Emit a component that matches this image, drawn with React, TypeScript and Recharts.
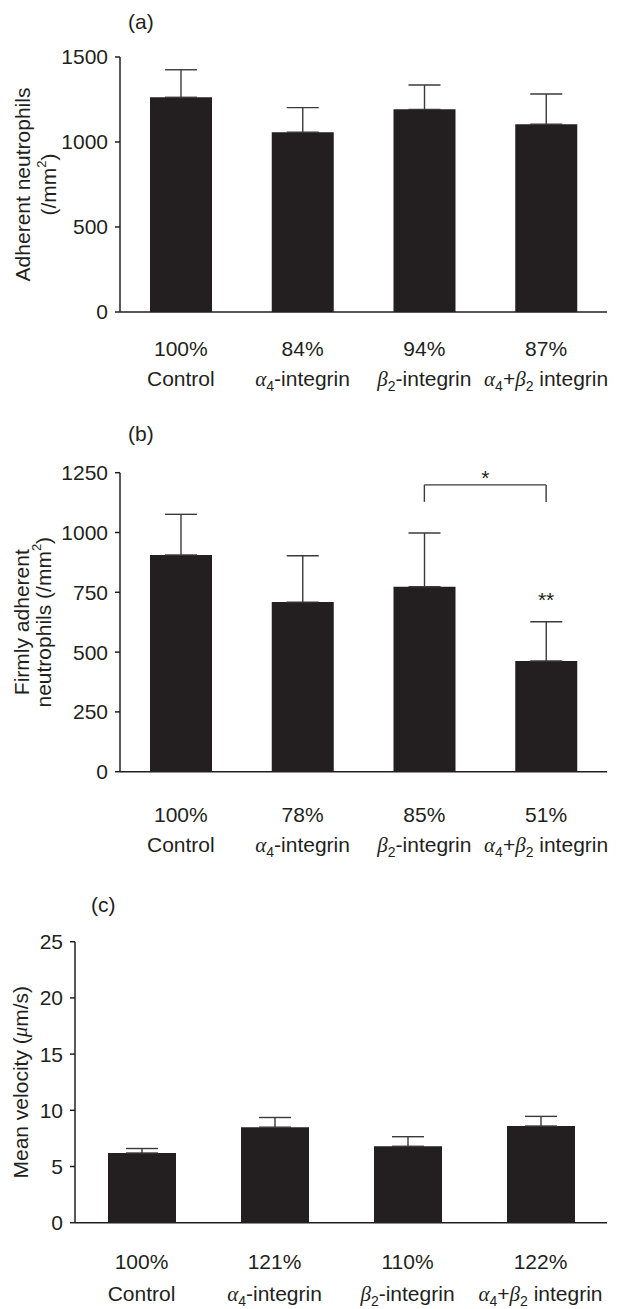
import React from 'react';
import { BarChart, Bar, XAxis, YAxis, ErrorBar, ReferenceLine, ReferenceDot } from 'recharts';

const groups = ['Control', 'α4-integrin', 'β2-integrin', 'α4+β2 integrin'];

// (a) adherent neutrophils (/mm2)
const adherentMean = [1263, 1057, 1192, 1104];
const adherentSem = [162, 145, 143, 178];
const adherentPct = ['100%', '84%', '94%', '87%'];
const adherentTicks = [0, 500, 1000, 1500];

// (b) firmly adherent neutrophils (/mm2)
const firmMean = [906, 709, 773, 463];
const firmSem = [170, 194, 225, 164];
const firmPct = ['100%', '78%', '85%', '51%'];
const firmTicks = [0, 250, 500, 750, 1000, 1250];

// (c) mean velocity (um/s)
const velocityMean = [6.2, 8.5, 6.8, 8.6];
const velocitySem = [0.4, 0.86, 0.85, 0.86];
const velocityPct = ['100%', '121%', '110%', '122%'];
const velocityTicks = [0, 5, 10, 15, 20, 25];

// significance marks in (b)
const bracketTop = 1199;
const bracketFoot = 1128;
const doubleStarLevel = 688;

const ink = '#231f20';
const sans = '"Liberation Sans", Arial, sans-serif';
const greekStyle = { fontFamily: '"Liberation Serif", "DejaVu Serif", serif', fontStyle: 'italic' as const };

const toRows = (means: number[], sems: number[]) =>
  groups.map((name, i) => ({ name, value: means[i], err: [0, sems[i]] }));

function groupLabel(i: number) {
  const sub = (c: string) => (
    <tspan fontSize={14} dy={5}>{c}</tspan>
  );
  if (i === 0) return <tspan>Control</tspan>;
  if (i === 1)
    return (
      <>
        <tspan style={greekStyle}>α</tspan>
        {sub('4')}
        <tspan dy={-5}>-integrin</tspan>
      </>
    );
  if (i === 2)
    return (
      <>
        <tspan style={greekStyle}>β</tspan>
        {sub('2')}
        <tspan dy={-5}>-integrin</tspan>
      </>
    );
  return (
    <>
      <tspan style={greekStyle}>α</tspan>
      {sub('4')}
      <tspan dy={-5}>+</tspan>
      <tspan style={greekStyle}>β</tspan>
      {sub('2')}
      <tspan dy={-5} style={{ whiteSpace: 'pre' }}> integrin</tspan>
    </>
  );
}

const GroupTick = (props: any) => {
  const { x, y, payload, pcts, pctDy, nameDy } = props;
  const i = groups.indexOf(payload.value);
  return (
    <g>
      <text x={x} y={y + pctDy} textAnchor="middle" fontSize={21} fill={ink} fontFamily={sans}>
        {pcts[i]}
      </text>
      <text x={x} y={y + nameDy} textAnchor="middle" fontSize={21} fill={ink} fontFamily={sans}>
        {groupLabel(i)}
      </text>
    </g>
  );
};

const AxisTitle = (props: any) => {
  const { viewBox, lines, xs } = props;
  const cy = viewBox.y + viewBox.height / 2;
  return (
    <g>
      {lines.map((ln: React.ReactNode, i: number) => (
        <text
          key={i}
          transform={`translate(${xs[i]},${cy}) rotate(-90)`}
          textAnchor="middle"
          dominantBaseline="central"
          fontSize={21}
          fill={ink}
          fontFamily={sans}
        >
          {ln}
        </text>
      ))}
    </g>
  );
};

const sup2 = (
  <tspan fontSize={13} dy={-7}>2</tspan>
);

interface PanelProps {
  top: number;
  height: number;
  margin: { top: number; right: number; bottom: number; left: number };
  xHeight: number;
  means: number[];
  sems: number[];
  pcts: string[];
  ticks: number[];
  barSize: number;
  titleLines: React.ReactNode[];
  titleXs: number[];
  pctDy: number;
  nameDy: number;
  letter: string;
  letterLeft: number;
  letterTop: number;
  children?: React.ReactNode;
}

const Panel: React.FC<PanelProps> = (p) => {
  const data = toRows(p.means, p.sems);
  return (
    <div style={{ position: 'absolute', left: 0, top: p.top, width: 618, height: p.height }}>
      <div
        style={{
          position: 'absolute',
          left: p.letterLeft,
          top: p.letterTop,
          fontSize: 21,
          lineHeight: '24px',
          color: ink,
          fontFamily: sans,
        }}
      >
        {p.letter}
      </div>
      <BarChart width={618} height={p.height} data={data} margin={p.margin}>
        <XAxis
          dataKey="name"
          height={p.xHeight}
          interval={0}
          tickLine={false}
          tickSize={0}
          tickMargin={0}
          axisLine={{ stroke: ink, strokeWidth: 1.5 }}
          tick={(tp: any) => <GroupTick {...tp} pcts={p.pcts} pctDy={p.pctDy} nameDy={p.nameDy} />}
        />
        <YAxis
          width={60}
          type="number"
          domain={[p.ticks[0], p.ticks[p.ticks.length - 1]]}
          ticks={p.ticks}
          interval={0}
          tickSize={5}
          tickMargin={7}
          axisLine={{ stroke: ink, strokeWidth: 1.5 }}
          tickLine={{ stroke: ink, strokeWidth: 1.5 }}
          tick={{ fill: ink, fontSize: 21, fontFamily: sans }}
          label={<AxisTitle lines={p.titleLines} xs={p.titleXs} />}
        />
        <Bar dataKey="value" fill={ink} barSize={p.barSize} isAnimationActive={false}>
          <ErrorBar dataKey="err" width={16} stroke="#3a3a3a" strokeWidth={1.4} direction="y" isAnimationActive={false} />
        </Bar>
        {p.children}
      </BarChart>
    </div>
  );
};

export default function App() {
  return (
    <div
      style={{
        position: 'absolute',
        left: 0,
        top: 0,
        width: 618,
        height: 1309,
        background: '#fff',
        fontFamily: sans,
      }}
    >
      <Panel
        top={0}
        height={420}
        margin={{ top: 57, right: 11, bottom: 38, left: 60 }}
        xHeight={70}
        means={adherentMean}
        sems={adherentSem}
        pcts={adherentPct}
        ticks={adherentTicks}
        barSize={62}
        titleLines={['Adherent neutrophils', <>(/mm{sup2}<tspan dy={7}>)</tspan></>]}
        titleXs={[22, 48]}
        pctDy={44}
        nameDy={74}
        letter="(a)"
        letterLeft={128}
        letterTop={10}
      />
      <Panel
        top={420}
        height={440}
        margin={{ top: 52.7, right: 11, bottom: 18.3, left: 60 }}
        xHeight={70}
        means={firmMean}
        sems={firmSem}
        pcts={firmPct}
        ticks={firmTicks}
        barSize={62}
        titleLines={['Firmly adherent', <>neutrophils (/mm{sup2}<tspan dy={7}>)</tspan></>]}
        titleXs={[21, 43]}
        pctDy={50}
        nameDy={80}
        letter="(b)"
        letterLeft={128}
        letterTop={2}
      >
        <ReferenceLine
          segment={[
            { x: groups[2], y: bracketTop },
            { x: groups[3], y: bracketTop },
          ]}
          stroke="#3a3a3a"
          strokeWidth={1.4}
          label={{ value: '*', position: 'top', offset: 0, fill: ink, fontSize: 21 }}
        />
        <ReferenceLine
          segment={[
            { x: groups[2], y: bracketTop },
            { x: groups[2], y: bracketFoot },
          ]}
          stroke="#3a3a3a"
          strokeWidth={1.4}
        />
        <ReferenceLine
          segment={[
            { x: groups[3], y: bracketTop },
            { x: groups[3], y: bracketFoot },
          ]}
          stroke="#3a3a3a"
          strokeWidth={1.4}
        />
        <ReferenceDot
          x={groups[3]}
          y={doubleStarLevel}
          r={0}
          stroke="none"
          label={{ value: '**', position: 'top', offset: 0, fill: ink, fontSize: 21 }}
        />
      </Panel>
      <Panel
        top={860}
        height={449}
        margin={{ top: 81.7, right: 11, bottom: 6.3, left: 15 }}
        xHeight={80}
        means={velocityMean}
        sems={velocitySem}
        pcts={velocityPct}
        ticks={velocityTicks}
        barSize={68}
        titleLines={[<>Mean velocity (<tspan style={greekStyle}>μ</tspan>m/s)</>]}
        titleXs={[20]}
        pctDy={46}
        nameDy={78}
        letter="(c)"
        letterLeft={91}
        letterTop={33}
      />
    </div>
  );
}
